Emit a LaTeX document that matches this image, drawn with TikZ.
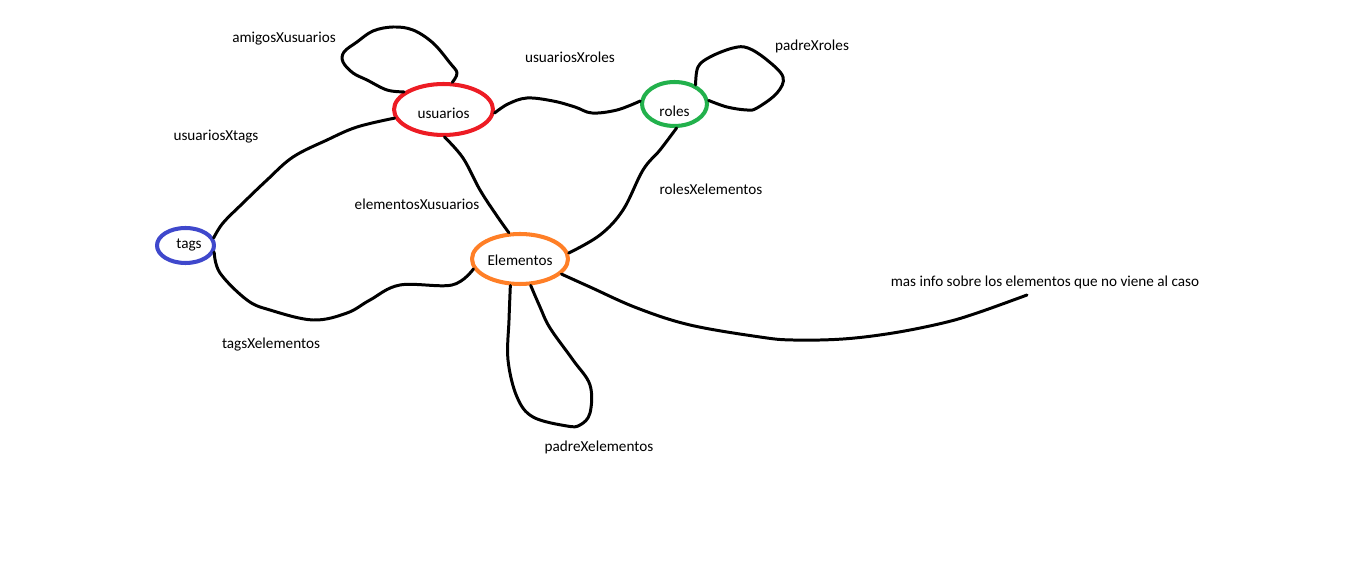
\documentclass[tikz,border=0pt]{standalone}
\usepackage{fontspec}
\setmainfont{Carlito}
\usetikzlibrary{shapes.geometric}
\definecolor{rojo}{RGB}{237,28,36}
\definecolor{verde}{RGB}{34,177,76}
\definecolor{azul}{RGB}{63,72,204}
\definecolor{naranja}{RGB}{255,127,39}
\begin{document}
\begin{tikzpicture}[x=0.02cm, y=-0.02cm, font=\fontsize{8.65}{10}\selectfont, line join=round, line cap=round,
	tabla/.style={ellipse, draw, line width=2.3pt, inner sep=0pt},
	rel/.style={line width=1.7pt, smooth, tension=0.6}]
	\useasboundingbox (0,0) rectangle (1354,573);
	% tablas
	\node[tabla, draw=rojo, minimum width=1.98cm, minimum height=1.02cm, label={[yshift=-0.07cm]center:usuarios}] (usuarios) at (443.5,109.5) {};
	\node[tabla, draw=verde, minimum width=1.3cm, minimum height=0.88cm, label={[yshift=-0.14cm]center:roles}] (roles) at (674.5,104) {};
	\node[tabla, draw=azul, minimum width=1.14cm, minimum height=0.7cm, label={[xshift=0.07cm]center:tags}] (tags) at (185.5,245.5) {};
	\node[tabla, draw=naranja, minimum width=1.92cm, minimum height=1cm, label={[yshift=-0.02cm]center:Elementos}] (Elementos) at (520,259) {};
	% relaciones
	\node (lamigos) at (284,39) {amigosXusuarios};
	\node (lusroles) at (570,57) {usuariosXroles};
	\node (lpadreroles) at (812,46) {padreXroles};
	\node (lustags) at (216,137) {usuariosXtags};
	\node (lelemus) at (417,204) {elementosXusuarios};
	\node (lroleselem) at (711,189) {rolesXelementos};
	\node (ltagselem) at (271,345) {tagsXelementos};
	\node (lpadreelem) at (599,447) {padreXelementos};
	\node (lmas) at (1045,282) {mas info sobre los elementos que no viene al caso};
	\coordinate (masfin) at (1027,295);
	\draw[rel] plot coordinates {(usuarios.156) (387,90) (367,80) (353,73) (343,62) (344,52) (357,42) (373,31) (393,27) (413,30) (433,43) (450,63) (457,73) (usuarios.72)};
	\draw[rel] plot coordinates {(usuarios.-4) (508,104) (527,98) (553,101) (575,107) (592,113) (617,110) (roles.175)};
	\draw[rel] plot coordinates {(roles.42) (698,67) (710,57) (733,48) (748,48) (767,60) (783,77) (777,93) (757,108) (747,110) (727,107) (roles.6)};
	\draw[rel] plot coordinates {(usuarios.190) (357,127) (327,140) (293,157) (267,180) (243,203) (223,223) (tags.15)};
	\draw[rel] plot coordinates {(tags.347) (220,273) (247,300) (270,310) (313,320) (347,313) (370,300) (400,285) (452,285) (Elementos.192)};
	\draw[rel] plot coordinates {(usuarios.272) (463,158) (480,190) (497,216) (Elementos.113)};
	\draw[rel] plot coordinates {(roles.275) (660,150) (643,170) (623,210) (600,235) (Elementos.7)};
	\draw[rel] plot coordinates {(Elementos.250) (509,320) (508,360) (517,397) (533,417) (567,426) (580,425) (590,413) (590,385) (573,360) (550,328) (540,307) (Elementos.292)};
	\draw[rel] plot coordinates {(Elementos.340) (590,287) (637,308) (690,325) (760,337) (793,340) (843,339) (893,333) (943,323) (977,313) (masfin)};
\end{tikzpicture}
\end{document}
